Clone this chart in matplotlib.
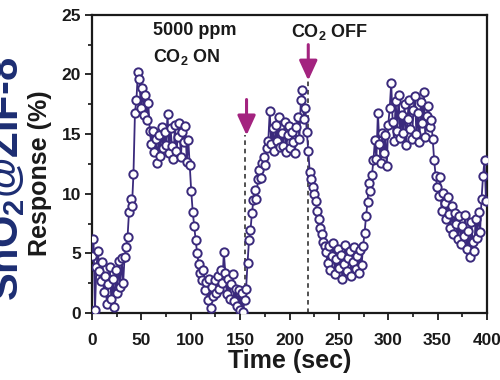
import numpy as np
import matplotlib
matplotlib.use('Agg')
import matplotlib.pyplot as plt

response = [
    # 0 - 28.5 s
    4.8, 6.2, 0.3, 3.9, 5.2, 3.5, 2.7, 4.3, 1.8, 3.1,
    0.8, 2.4, 3.9, 1.2, 2.9, 0.5, 3.6, 1.7, 4.4, 2.2,
    # 30 - 45 s, first rise
    4.6, 2.5, 4.7, 5.5, 6.4, 8.5, 9.6, 9.0, 11.7, 16.8, 17.9,
    # 46.5 - 58.5 s, peak
    20.2, 19.6, 17.2, 18.9, 16.6, 18.3, 16.2, 17.6, 15.3,
    # 60 - 97.5 s, plateau
    14.2, 15.3, 13.5, 14.6, 12.6, 14.9, 13.2, 15.6, 13.8, 15.2,
    14.1, 16.7, 13.4, 15.5, 14.0, 12.9, 15.8, 13.6, 14.8, 15.9,
    13.1, 15.2, 14.3, 15.7, 12.7, 14.5,
    # 99 - 106.5 s, decay
    12.4, 10.2, 8.5, 7.3, 6.1, 5.0,
    # 108 - 154.5 s, baseline
    4.1, 3.4, 2.8, 3.6, 1.9, 2.6, 1.1, 2.9, 0.4, 2.2,
    1.4, 2.8, 1.7, 3.1, 2.0, 3.6, 2.5, 5.1, 3.4, 1.6,
    2.9, 1.2, 2.4, 3.3, 1.0, 2.0, 0.6, 1.9, 0.3, 1.7,
    0.1, 1.1,
    # 156 - 178.5 s, CO2 on
    2.0, 4.2, 6.1, 7.0, 8.4, 9.5, 10.3, 9.6, 11.2, 12.0,
    11.3, 12.6, 13.1, 12.4, 13.8, 14.4,
    # 180 - 216 s, plateau
    16.9, 14.2, 15.5, 13.6, 15.8, 14.4, 16.4, 13.9, 15.1, 14.0,
    16.0, 13.5, 14.9, 15.7, 13.8, 15.2, 14.3, 13.4, 15.6, 16.4,
    14.6, 17.9, 18.7, 16.3, 17.2,
    # 217.5 - 235.5 s, CO2 off
    15.2, 13.6, 11.8, 11.2, 10.6, 10.0, 9.4, 8.6, 7.9, 7.1,
    6.6, 6.0, 5.6,
    # 237 - 274.5 s, baseline
    5.1, 4.2, 5.6, 3.6, 4.8, 5.9, 3.3, 4.5, 5.4, 3.8,
    4.9, 2.9, 4.1, 5.7, 3.5, 4.6, 5.2, 3.1, 4.3, 5.5,
    3.7, 4.8, 3.4, 5.3, 4.0, 5.6,
    # 276 - 288 s, rise
    6.7, 8.1, 9.3, 10.9, 10.2, 11.6, 12.8, 14.5, 12.9,
    # 289.5 - 343.5 s, plateau
    16.8, 14.2, 12.6, 15.1, 13.4, 14.9, 12.3, 15.8, 17.2, 19.3,
    16.0, 14.4, 17.8, 15.3, 18.3, 14.7, 16.6, 15.1, 17.5, 14.1,
    16.3, 17.9, 15.4, 14.6, 17.0, 18.2, 15.0, 16.8, 14.3, 17.7,
    15.9, 18.5, 14.8, 16.5, 17.4, 15.6, 16.2,
    # 345 - 351 s, decay
    14.6, 12.8, 11.5, 10.6, 9.8,
    # 352.5 - 393 s, baseline
    11.4, 8.6, 10.1, 9.2, 7.9, 9.7, 8.3, 7.1, 9.0, 6.6,
    8.4, 7.5, 6.2, 8.1, 5.8, 7.3, 6.5, 8.2, 5.4, 6.9,
    4.7, 7.6, 6.0, 5.2, 7.9, 6.3, 8.5, 6.8,
    # 394.5 - 399 s
    9.6, 11.5, 12.8, 9.4,
]
time_step = 1.5
time = np.arange(len(response)) * time_step

x_ticks = [0, 50, 100, 150, 200, 250, 300, 350, 400]
y_ticks = [0, 5, 10, 15, 20, 25]

on_time = 156.5
off_time = 219
on_arrow = (17.9, 14.9)
off_arrow = (22.5, 19.5)

line_color = '#3a2a7c'
arrow_color = '#a3237f'
text_color = '#1a1a1a'

plt.rcParams['font.family'] = ['Liberation Sans', 'DejaVu Sans']
plt.rcParams['font.weight'] = 'bold'
plt.rcParams['mathtext.fontset'] = 'custom'
plt.rcParams['mathtext.rm'] = 'Liberation Sans:bold'
plt.rcParams['mathtext.bf'] = 'Liberation Sans:bold'

fig = plt.figure(figsize=(5, 3.8), dpi=100)
ax = fig.add_axes([0.184, 0.176, 0.79, 0.785])

# dashed markers of gas switching, behind the data
ax.plot([on_time - 1.5, on_time - 1.5], [0, on_arrow[1]], ls=(0, (3, 2.5)), color='#222222', lw=1.1, zorder=1)
ax.plot([off_time, off_time], [0, off_arrow[1]], ls=(0, (3, 2.5)), color='#222222', lw=1.1, zorder=1)

ax.plot(time, response, '-o', color=line_color, lw=1.3, ms=6, mfc='white', mec=line_color, mew=1.4, zorder=3)

for t, (y0, y1) in [(on_time, on_arrow), (off_time, off_arrow)]:
    ax.annotate('', xy=(t, y1), xytext=(t, y0),
                arrowprops=dict(arrowstyle='-|>,head_length=1.2,head_width=0.55', color=arrow_color,
                                lw=2.2, shrinkA=0, shrinkB=0, mutation_scale=10), zorder=4)

ax.text(62, 24.4, '5000 ppm', fontsize=13, fontweight='bold', color=text_color, va='top', ha='left')
ax.text(62, 22.3, r'CO$_{2}$ ON', fontsize=13, fontweight='bold', color=text_color, va='top', ha='left')
ax.text(202, 24.4, r'CO$_{2}$ OFF', fontsize=13, fontweight='bold', color=text_color, va='top', ha='left')

ax.set_xlim(0, 400)
ax.set_ylim(0, 25)
ax.set_xticks(x_ticks)
ax.set_yticks(y_ticks)
ax.set_xticks(np.array(x_ticks[:-1]) + 25, minor=True)
ax.set_yticks(np.array(y_ticks[:-1]) + 2.5, minor=True)
ax.tick_params(which='major', direction='out', length=5, width=1.3, labelsize=12.5, colors=text_color)
ax.tick_params(axis='x', which='major', pad=9)
ax.tick_params(axis='y', which='major', pad=3)
ax.tick_params(which='minor', direction='out', length=3, width=1.1)
for spine in ax.spines.values():
    spine.set_linewidth(1.6)
    spine.set_color(text_color)

ax.set_xlabel('Time (sec)', fontsize=18, fontweight='bold', color=text_color, labelpad=1)
ax.set_ylabel('Response (%)', fontsize=18, fontweight='bold', color=text_color)
ax.yaxis.set_label_coords(-0.1, 0.47)

# cropped panel label on the far left edge
fig.text(0.012, 0.53, r'SnO$_{2}$@ZIF-8', rotation=90, fontsize=30, fontweight='bold',
         color='#1c2d72', ha='center', va='center')

fig.savefig('out.png', dpi=100)
